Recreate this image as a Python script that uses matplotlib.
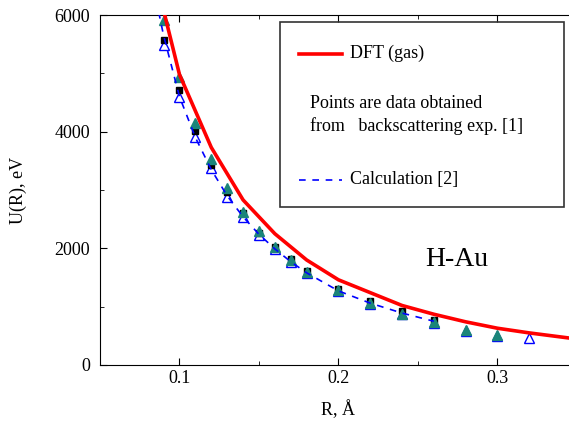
import numpy as np
import matplotlib.pyplot as plt
from matplotlib.lines import Line2D
from matplotlib.patches import Rectangle

plt.rcParams['font.family'] = ['Liberation Serif', 'DejaVu Serif']

# DFT (gas) curve
r_dft = [0.09, 0.10, 0.12, 0.14, 0.16, 0.18, 0.20, 0.22, 0.24, 0.26, 0.28, 0.30, 0.32, 0.35]
u_dft = [6080, 4980, 3730, 2830, 2250, 1800, 1460, 1240, 1020, 870, 740, 630, 550, 445]

# Calculation [2] (dashed line)
r_calc = [0.085, 0.09, 0.10, 0.11, 0.12, 0.13, 0.14, 0.15, 0.16, 0.17, 0.18, 0.20, 0.22, 0.24, 0.26]
u_calc = [6300, 5650, 4600, 3900, 3350, 2900, 2540, 2240, 1990, 1770, 1580, 1270, 1060, 890, 750]

# backscattering data, set 1 (teal filled triangles)
r_tri = [0.09, 0.10, 0.11, 0.12, 0.13, 0.14, 0.15, 0.16, 0.17, 0.18, 0.20, 0.22, 0.24, 0.26, 0.28, 0.30]
u_tri = [5910, 4930, 4150, 3530, 3030, 2620, 2300, 2020, 1800, 1590, 1280, 1060, 880, 730, 600, 510]

# set 2 (black squares)
r_sq = [0.09, 0.10, 0.11, 0.12, 0.13, 0.14, 0.15, 0.16, 0.17, 0.18, 0.20, 0.22, 0.24, 0.26]
u_sq = [5570, 4710, 4010, 3430, 2960, 2600, 2270, 2030, 1810, 1610, 1300, 1100, 930, 770]

# set 3 (blue open triangles)
r_open = [0.09, 0.10, 0.11, 0.12, 0.13, 0.14, 0.15, 0.16, 0.17, 0.18, 0.20, 0.22, 0.24, 0.26, 0.28, 0.30, 0.32]
u_open = [5490, 4590, 3910, 3380, 2880, 2540, 2230, 1990, 1770, 1570, 1270, 1040, 870, 720, 590, 500, 470]

fig = plt.figure(figsize=(5.69, 4.25), dpi=100)
ax = fig.add_axes([0.1757, 0.1412, 0.8383, 0.8235])

ax.plot(r_open, u_open, '^', ms=6.5, mfc='white', mec='blue', mew=1.0, zorder=3)
ax.plot(r_sq, u_sq, 's', ms=5, color='black', zorder=4)
ax.plot(r_tri, u_tri, '^', ms=6.5, color='#1b8579', zorder=5)
ax.plot(r_calc, u_calc, '--', color='blue', lw=1.2, dashes=(4, 4), zorder=6)
ax.plot(r_dft, u_dft, '-', color='red', lw=2.6, zorder=7)

ax.set_xlim(0.05, 0.35)
ax.set_ylim(0, 6000)
ax.set_xticks([0.1, 0.2, 0.3])
ax.set_xticks([0.05, 0.15, 0.25, 0.35], minor=True)
ax.set_yticks([0, 2000, 4000, 6000])
ax.set_yticks([1000, 3000, 5000], minor=True)
ax.tick_params(which='both', direction='in', top=True, right=True, labelsize=13)
ax.tick_params(which='major', length=5)
ax.tick_params(which='minor', length=3)
ax.tick_params(axis='y', pad=7)
ax.set_xlabel('R, Å', fontsize=13, labelpad=10)
ax.set_ylabel('U(R), eV', fontsize=13, labelpad=20)

ax.text(0.681, 0.284, 'H-Au', transform=ax.transAxes, fontsize=20)

# legend box drawn by hand
box = Rectangle((0.377, 0.451), 0.596, 0.529, transform=ax.transAxes,
                fill=False, edgecolor='#333333', lw=1.2, zorder=8)
ax.add_patch(box)
ax.add_line(Line2D([0.417, 0.507], [0.89, 0.89], transform=ax.transAxes,
                   color='red', lw=2.6, zorder=9))
ax.text(0.524, 0.89, 'DFT (gas)', transform=ax.transAxes, fontsize=13, va='center')
ax.text(0.44, 0.714, 'Points are data obtained\nfrom   backscattering exp. [1]',
        transform=ax.transAxes, fontsize=13, va='center', linespacing=1.37)
ax.add_line(Line2D([0.417, 0.507], [0.529, 0.529], transform=ax.transAxes,
                   color='blue', lw=1.2, ls='--', dashes=(4, 4), zorder=9))
ax.text(0.524, 0.529, 'Calculation [2]', transform=ax.transAxes, fontsize=13, va='center')

fig.savefig('out.png', dpi=100)
